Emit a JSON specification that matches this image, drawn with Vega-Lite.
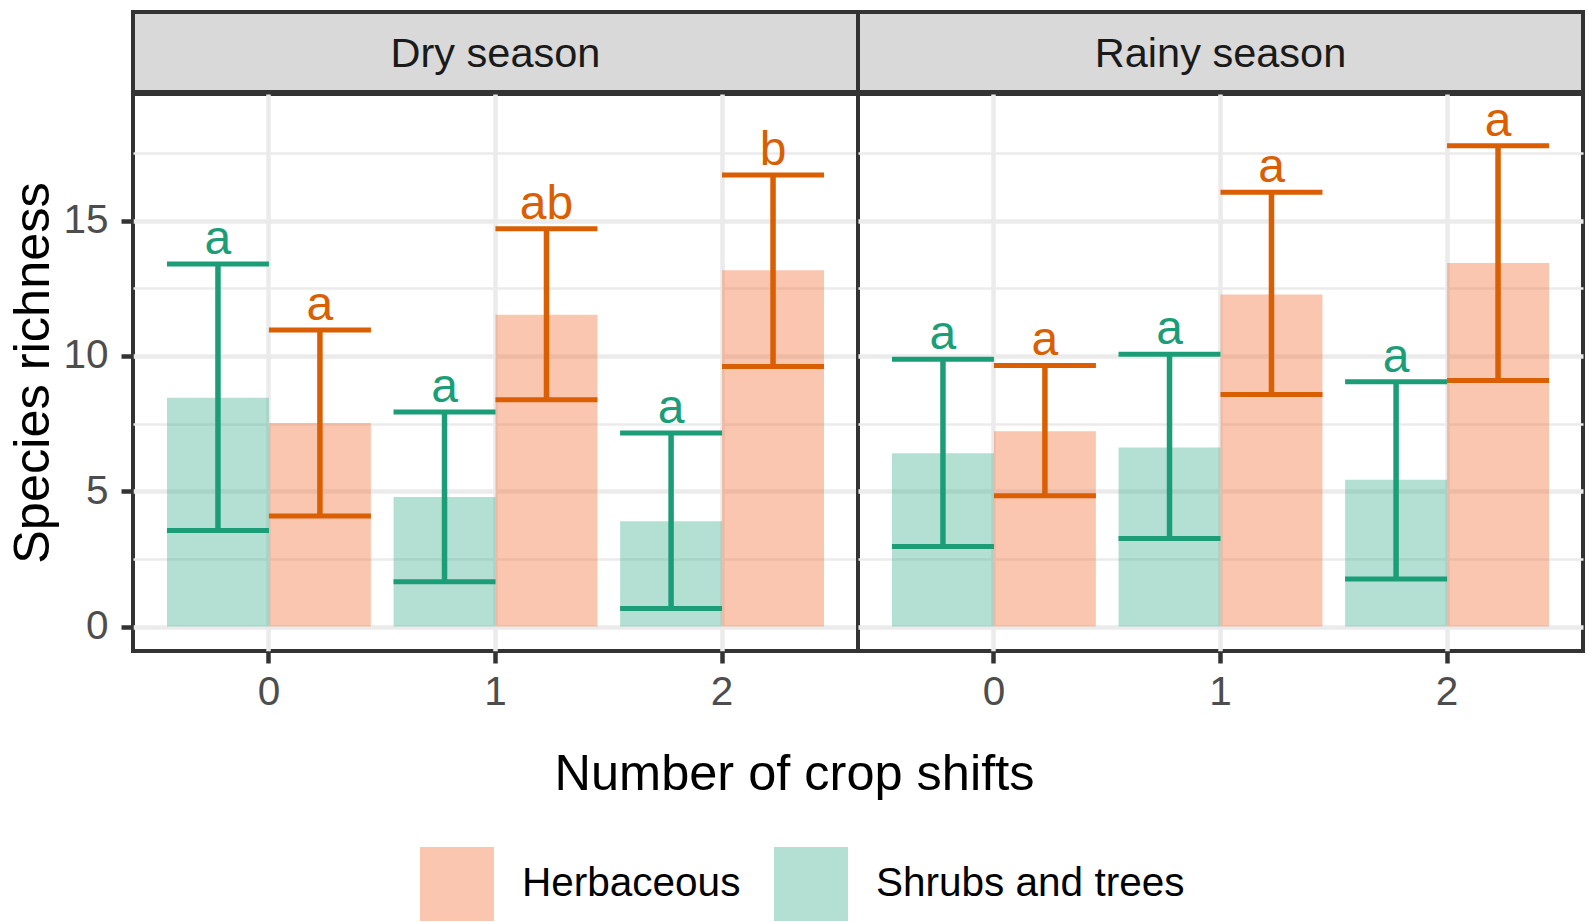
{
  "$schema": "https://vega.github.io/schema/vega-lite/v6.json",
  "padding": {"left": 6, "top": 10, "right": 2, "bottom": 0},
  "background": "white",
  "config": {
    "font": "Liberation Sans",
    "axis": {"labelFontSize": 40.5, "labelColor": "#4D4D4D", "tickColor": "#333333", "tickSize": 12, "tickWidth": 4.5, "labelPadding": 9, "domain": false, "gridColor": "#EBEBEB", "gridWidth": 4.5, "titleFontSize": 50.5, "titleFontWeight": "normal", "titleColor": "#000000"}
  },
  "datasets": {
    "rich": [
      {"season": "Dry season", "shifts": "0", "group": "Shrubs and trees", "mean": 8.45, "lo": 3.55, "hi": 13.4, "letter": "a"},
      {"season": "Dry season", "shifts": "0", "group": "Herbaceous", "mean": 7.52, "lo": 4.08, "hi": 10.96, "letter": "a"},
      {"season": "Dry season", "shifts": "1", "group": "Shrubs and trees", "mean": 4.79, "lo": 1.65, "hi": 7.93, "letter": "a"},
      {"season": "Dry season", "shifts": "1", "group": "Herbaceous", "mean": 11.52, "lo": 8.38, "hi": 14.7, "letter": "ab"},
      {"season": "Dry season", "shifts": "2", "group": "Shrubs and trees", "mean": 3.89, "lo": 0.67, "hi": 7.15, "letter": "a"},
      {"season": "Dry season", "shifts": "2", "group": "Herbaceous", "mean": 13.17, "lo": 9.61, "hi": 16.69, "letter": "b"},
      {"season": "Rainy season", "shifts": "0", "group": "Shrubs and trees", "mean": 6.4, "lo": 2.96, "hi": 9.88, "letter": "a"},
      {"season": "Rainy season", "shifts": "0", "group": "Herbaceous", "mean": 7.22, "lo": 4.83, "hi": 9.65, "letter": "a"},
      {"season": "Rainy season", "shifts": "1", "group": "Shrubs and trees", "mean": 6.62, "lo": 3.25, "hi": 10.06, "letter": "a"},
      {"season": "Rainy season", "shifts": "1", "group": "Herbaceous", "mean": 12.27, "lo": 8.57, "hi": 16.05, "letter": "a"},
      {"season": "Rainy season", "shifts": "2", "group": "Shrubs and trees", "mean": 5.42, "lo": 1.76, "hi": 9.05, "letter": "a"},
      {"season": "Rainy season", "shifts": "2", "group": "Herbaceous", "mean": 13.43, "lo": 9.09, "hi": 17.77, "letter": "a"}
    ]
  },
  "spacing": -4,
  "vconcat": [
    {
      "spacing": 0,
      "bounds": "flush",
      "hconcat": [
        {
          "width": 725, "height": 80,
          "view": {"fill": "#D9D9D9", "stroke": "#333333", "strokeWidth": 4},
          "data": {"values": [{"season": "Dry season"}]},
          "mark": {"type": "text", "fontSize": 41.5, "color": "#1A1A1A", "baseline": "alphabetic", "dy": 15},
          "encoding": {"text": {"field": "season"}}
        },
        {
          "width": 725, "height": 80,
          "view": {"fill": "#D9D9D9", "stroke": "#333333", "strokeWidth": 4},
          "data": {"values": [{"season": "Rainy season"}]},
          "mark": {"type": "text", "fontSize": 41.5, "color": "#1A1A1A", "baseline": "alphabetic", "dy": 15},
          "encoding": {"text": {"field": "season"}}
        }
      ]
    },
    {
      "spacing": 0,
      "bounds": "flush",
      "hconcat": [
        {
          "width": 725, "height": 557,
          "view": {"fill": "white", "stroke": "#333333", "strokeWidth": 4},
          "data": {"name": "rich"},
          "transform": [{"filter": "datum.season === 'Dry season'"}],
          "resolve": {"axis": {"y": "independent"}},
          "layer": [
            {
              "mark": {"type": "bar", "opacity": 0.4},
              "encoding": {
                "x": {"field": "shifts", "type": "nominal", "scale": {"paddingInner": 0.1, "paddingOuter": 0.15},
                      "axis": {"bandPosition": 0.5, "grid": true, "labelAngle": 0, "title": "Number of crop shifts", "titleX": 661, "titleY": 138, "titleBaseline": "alphabetic"}},
                "xOffset": {"field": "group", "type": "nominal", "sort": ["Shrubs and trees", "Herbaceous"], "scale": {"paddingInner": 0, "paddingOuter": 0}},
                "y": {"field": "mean", "type": "quantitative", "scale": {"domain": [-0.905, 19.68], "nice": false, "zero": false},
                      "axis": {"values": [0, 5, 10, 15], "grid": true, "labelPadding": 13, "title": "Species richness", "titlePadding": 3}},
                "y2": {"datum": 0},
                "fill": {"field": "group", "type": "nominal", "scale": {"domain": ["Herbaceous", "Shrubs and trees"], "range": ["#F5703A", "#41B191"]},
                         "legend": {"title": null, "orient": "none", "legendX": 287, "legendY": 835, "direction": "horizontal", "symbolType": "square", "symbolSize": 5476, "symbolStrokeWidth": 0, "labelFontSize": 40.5, "labelColor": "#000000", "labelOffset": 28, "labelLimit": 0, "columnPadding": 33}}
              }
            },
            {
              "mark": {"type": "rule", "strokeWidth": 5.5, "opacity": 1},
              "encoding": {
                "x": {"field": "shifts", "type": "nominal"},
                "xOffset": {"field": "group", "type": "nominal", "sort": ["Shrubs and trees", "Herbaceous"]},
                "y": {"field": "lo", "type": "quantitative", "scale": {"domain": [-0.905, 19.68], "nice": false, "zero": false},
                      "axis": {"orient": "right", "values": [2.5, 7.5, 12.5, 17.5], "grid": true, "gridWidth": 2.3, "labels": false, "ticks": false, "domain": false, "title": null}},
                "y2": {"field": "hi"},
                "color": {"field": "group", "type": "nominal", "scale": {"domain": ["Herbaceous", "Shrubs and trees"], "range": ["#D95F02", "#1B9E77"]}, "legend": null}
              }
            },
            {
              "mark": {"type": "tick", "thickness": 5, "size": 102, "orient": "horizontal", "opacity": 1},
              "encoding": {
                "x": {"field": "shifts", "type": "nominal"},
                "xOffset": {"field": "group", "type": "nominal", "sort": ["Shrubs and trees", "Herbaceous"]},
                "y": {"field": "lo", "type": "quantitative", "scale": {"domain": [-0.905, 19.68], "nice": false, "zero": false}, "axis": null},
                "color": {"field": "group", "type": "nominal", "legend": null}
              }
            },
            {
              "mark": {"type": "tick", "thickness": 5, "size": 102, "orient": "horizontal", "opacity": 1},
              "encoding": {
                "x": {"field": "shifts", "type": "nominal"},
                "xOffset": {"field": "group", "type": "nominal", "sort": ["Shrubs and trees", "Herbaceous"]},
                "y": {"field": "hi", "type": "quantitative", "scale": {"domain": [-0.905, 19.68], "nice": false, "zero": false}, "axis": null},
                "color": {"field": "group", "type": "nominal", "legend": null}
              }
            },
            {
              "mark": {"type": "text", "fontSize": 48, "dy": -10, "baseline": "alphabetic"},
              "encoding": {
                "x": {"field": "shifts", "type": "nominal"},
                "xOffset": {"field": "group", "type": "nominal", "sort": ["Shrubs and trees", "Herbaceous"]},
                "y": {"field": "hi", "type": "quantitative", "scale": {"domain": [-0.905, 19.68], "nice": false, "zero": false}, "axis": null},
                "text": {"field": "letter"},
                "color": {"field": "group", "type": "nominal", "legend": null}
              }
            }
          ]
        },
        {
          "width": 725, "height": 557,
          "view": {"fill": "white", "stroke": "#333333", "strokeWidth": 4},
          "data": {"name": "rich"},
          "transform": [{"filter": "datum.season === 'Rainy season'"}],
          "resolve": {"axis": {"y": "independent"}},
          "layer": [
            {
              "mark": {"type": "bar", "opacity": 0.4},
              "encoding": {
                "x": {"field": "shifts", "type": "nominal", "scale": {"paddingInner": 0.1, "paddingOuter": 0.15},
                      "axis": {"bandPosition": 0.5, "grid": true, "labelAngle": 0, "title": null}},
                "xOffset": {"field": "group", "type": "nominal", "sort": ["Shrubs and trees", "Herbaceous"], "scale": {"paddingInner": 0, "paddingOuter": 0}},
                "y": {"field": "mean", "type": "quantitative", "scale": {"domain": [-0.905, 19.68], "nice": false, "zero": false},
                      "axis": {"values": [0, 5, 10, 15], "grid": true, "labels": false, "ticks": false, "title": null}},
                "y2": {"datum": 0},
                "fill": {"field": "group", "type": "nominal", "scale": {"domain": ["Herbaceous", "Shrubs and trees"], "range": ["#F5703A", "#41B191"]}, "legend": null}
              }
            },
            {
              "mark": {"type": "rule", "strokeWidth": 5.5, "opacity": 1},
              "encoding": {
                "x": {"field": "shifts", "type": "nominal"},
                "xOffset": {"field": "group", "type": "nominal", "sort": ["Shrubs and trees", "Herbaceous"]},
                "y": {"field": "lo", "type": "quantitative", "scale": {"domain": [-0.905, 19.68], "nice": false, "zero": false},
                      "axis": {"orient": "right", "values": [2.5, 7.5, 12.5, 17.5], "grid": true, "gridWidth": 2.3, "labels": false, "ticks": false, "domain": false, "title": null}},
                "y2": {"field": "hi"},
                "color": {"field": "group", "type": "nominal", "scale": {"domain": ["Herbaceous", "Shrubs and trees"], "range": ["#D95F02", "#1B9E77"]}, "legend": null}
              }
            },
            {
              "mark": {"type": "tick", "thickness": 5, "size": 102, "orient": "horizontal", "opacity": 1},
              "encoding": {
                "x": {"field": "shifts", "type": "nominal"},
                "xOffset": {"field": "group", "type": "nominal", "sort": ["Shrubs and trees", "Herbaceous"]},
                "y": {"field": "lo", "type": "quantitative", "scale": {"domain": [-0.905, 19.68], "nice": false, "zero": false}, "axis": null},
                "color": {"field": "group", "type": "nominal", "legend": null}
              }
            },
            {
              "mark": {"type": "tick", "thickness": 5, "size": 102, "orient": "horizontal", "opacity": 1},
              "encoding": {
                "x": {"field": "shifts", "type": "nominal"},
                "xOffset": {"field": "group", "type": "nominal", "sort": ["Shrubs and trees", "Herbaceous"]},
                "y": {"field": "hi", "type": "quantitative", "scale": {"domain": [-0.905, 19.68], "nice": false, "zero": false}, "axis": null},
                "color": {"field": "group", "type": "nominal", "legend": null}
              }
            },
            {
              "mark": {"type": "text", "fontSize": 48, "dy": -10, "baseline": "alphabetic"},
              "encoding": {
                "x": {"field": "shifts", "type": "nominal"},
                "xOffset": {"field": "group", "type": "nominal", "sort": ["Shrubs and trees", "Herbaceous"]},
                "y": {"field": "hi", "type": "quantitative", "scale": {"domain": [-0.905, 19.68], "nice": false, "zero": false}, "axis": null},
                "text": {"field": "letter"},
                "color": {"field": "group", "type": "nominal", "legend": null}
              }
            }
          ]
        }
      ]
    }
  ]
}
